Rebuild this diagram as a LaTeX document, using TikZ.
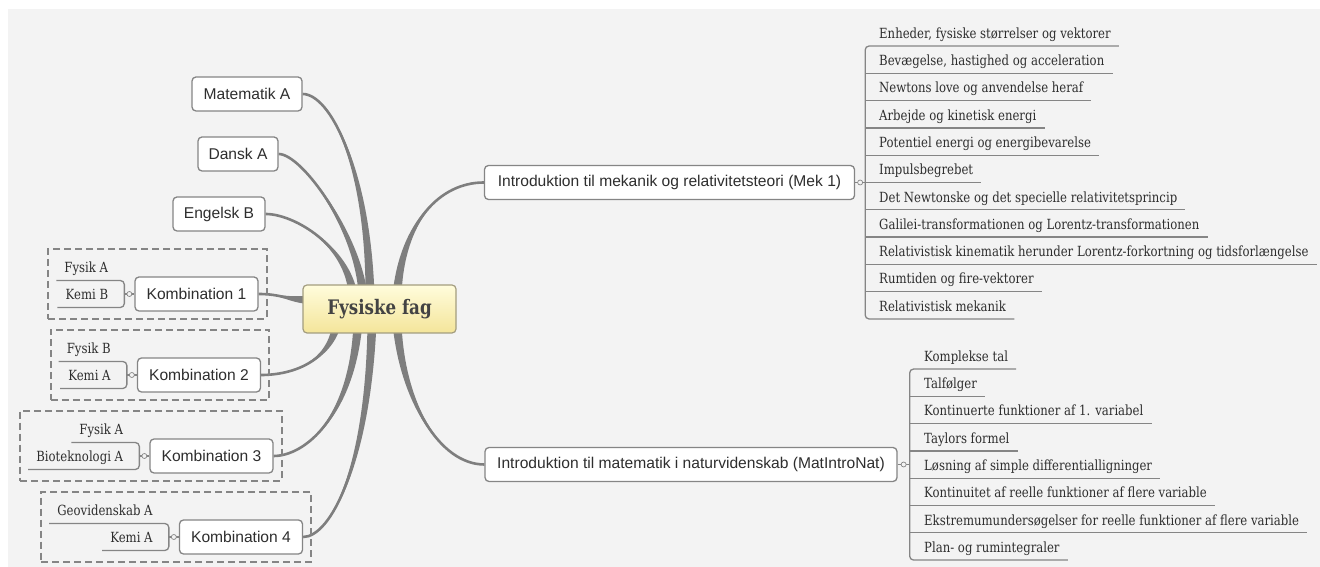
\documentclass[tikz,border=0pt]{standalone}
\usepackage{fontspec}
\setmainfont{DejaVu Serif}[FakeStretch=0.835]
\newfontfamily\topicfont{Liberation Sans}
\usetikzlibrary{calc,fit,backgrounds,positioning}
\definecolor{canvas}{HTML}{F3F3F3}
\definecolor{branchgray}{HTML}{7E7E7E}
\definecolor{boxline}{HTML}{858585}
\definecolor{inktext}{HTML}{2E2E2E}
\definecolor{ctrtop}{HTML}{FFFCDC}
\definecolor{ctrbot}{HTML}{F4E59A}
\definecolor{ctrline}{HTML}{A39D7F}

\tikzset{
  ctr/.style={draw=ctrline, top color=ctrtop, bottom color=ctrbot, rounded corners=4pt,
    line width=1.2pt, minimum width=153pt, minimum height=48pt, text=inktext!90,
    font=\bfseries\fontsize{20}{24}\selectfont},
  topic/.style={draw=boxline, fill=white, rounded corners=4pt, line width=1.3pt,
    minimum height=34pt, inner xsep=10pt, text=inktext,
    font=\topicfont\fontsize{15.6}{18}\selectfont},
  leaf/.style={inner xsep=8pt, inner ysep=3.5pt, text height=10pt, text depth=4pt,
    text=inktext, font=\fontsize{14}{16}\selectfont},
  leafline/.style={draw=boxline, line width=1.3pt},
  knob/.style={circle, draw=boxline, fill=canvas, line width=0.7pt, inner sep=0pt, minimum size=5pt},
  groupbox/.style={draw=boxline, line width=2pt, dash pattern=on 7pt off 4pt,
    inner xsep=8pt, inner ysep=8.75pt, yshift=1.75pt},
  branchline/.style={draw=branchgray, line width=2.6pt},
}

% tapered branch: start, end, control 1, control 2, half width at start
\newcommand{\branch}[5]{%
  \fill[branchgray] ($(#1)+(#5)$) .. controls ($(#3)+0.5*(#5)$) and (#4) .. (#2)
    .. controls (#4) and ($(#3)-0.5*(#5)$) .. ($(#1)-(#5)$) -- cycle;
  \draw[branchline] (#1) .. controls (#3) and (#4) .. (#2);}

\begin{document}
\begin{tikzpicture}[x=1pt,y=1pt]
  \useasboundingbox (0,0) rectangle (1320,567);
  \begin{scope}[on background layer]
    \fill[white] (0,0) rectangle (1320,567);
    \fill[canvas] (8,0) rectangle (1320,558);
  \end{scope}

  \node[ctr] (ctr) at (379.5,258) {Fysiske fag};

  % subjects on the left
  \node[topic, minimum width=110pt] (matA) at (247,473) {Matematik A};
  \node[topic, minimum width=80pt] (danA) at (238,413) {Dansk A};
  \node[topic, minimum width=92pt] (engB) at (219,353) {Engelsk B};

  % combinations
  \foreach \k/\x/\y in {1/196.5/273, 2/199/192, 3/211.5/111, 4/241/30}
    \node[topic, minimum width=123pt] (k\k) at (\x,\y) {Kombination \k};
  \foreach \k/\up/\low in {1/Fysik A/Kemi B, 2/Fysik B/Kemi A, 3/Fysik A/Bioteknologi A, 4/Geovidenskab A/Kemi A}{
    \coordinate (bar\k) at ([xshift=-10pt]k\k.west);
    \node[leaf, anchor=south east] (up\k) at ([shift={(-8,13.5)}]bar\k) {\up};
    \node[leaf, anchor=south east] (low\k) at ([shift={(-8,-13.5)}]bar\k) {\low};
    \draw[leafline, rounded corners=4pt] (up\k.south west) -- (bar\k |- up\k.south)
      -- (bar\k |- low\k.south) -- (low\k.south west);
    \draw[leafline] (bar\k) -- (k\k.west);
    \node[knob] at ([xshift=-5pt]k\k.west) {};
    \node[groupbox, fit=(k\k)(up\k)(low\k)] (grp\k) {};
  }

  % courses on the right
  \node[topic, minimum width=370pt] (mek) at (669.5,384.5) {Introduktion til mekanik og relativitetsteori (Mek 1)};
  \node[topic, minimum width=412pt] (mat) at (691,102.5) {Introduktion til matematik i naturvidenskab (MatIntroNat)};
  \coordinate (mekbar) at ([xshift=10pt]mek.east);
  \coordinate (matbar) at ([xshift=12pt]mat.east);

  \foreach \t [count=\i] in {{Enheder, fysiske størrelser og vektorer},
      {Bevægelse, hastighed og acceleration}, {Newtons love og anvendelse heraf},
      {Arbejde og kinetisk energi}, {Potentiel energi og energibevarelse},
      {Impulsbegrebet}, {Det Newtonske og det specielle relativitetsprincip},
      {Galilei-transformationen og Lorentz-transformationen},
      {Relativistisk kinematik herunder Lorentz-forkortning og tidsforlængelse},
      {Rumtiden og fire-vektorer}, {Relativistisk mekanik}}
    \node[leaf, anchor=south west] (mek\i) at (871,548.3-27.3*\i) {\t};
  \draw[leafline, rounded corners=4pt] (mek1.south east) -- (mekbar |- mek1.south)
    -- (mekbar |- mek11.south) -- (mek11.south east);
  \foreach \i in {2,...,10}
    \draw[leafline] (mekbar |- mek\i.south) -- (mek\i.south east);
  \draw[leafline] (mek.east) -- (mekbar);
  \node[knob] at ([xshift=5pt]mek.east) {};

  \foreach \t [count=\i] in {{Komplekse tal}, {Talfølger},
      {Kontinuerte funktioner af 1. variabel}, {Taylors formel},
      {Løsning af simple differentialligninger},
      {Kontinuitet af reelle funktioner af flere variable},
      {Ekstremumundersøgelser for reelle funktioner af flere variable},
      {Plan- og rumintegraler}}
    \node[leaf, anchor=south west] (mat\i) at (916,225.3-27.3*\i) {\t};
  \draw[leafline, rounded corners=4pt] (mat1.south east) -- (matbar |- mat1.south)
    -- (matbar |- mat8.south) -- (mat8.south east);
  \foreach \i in {2,...,7}
    \draw[leafline] (matbar |- mat\i.south) -- (mat\i.south east);
  \draw[leafline] (mat.east) -- (matbar);
  \node[knob] at ([xshift=6pt]mat.east) {};

  % branches out of the centre
  \begin{scope}[on background layer]
    \coordinate (sMatA) at ([shift={(-9.5,14)}]ctr.center);
    \coordinate (sDanA) at ([shift={(-16.5,14)}]ctr.center);
    \coordinate (sEngB) at ([shift={(-26.5,14)}]ctr.center);
    \coordinate (sK1) at ([shift={(-67.5,9)}]ctr.center);
    \coordinate (sK2) at ([shift={(-42.5,-14)}]ctr.center);
    \coordinate (sK3) at ([shift={(-21.5,-14)}]ctr.center);
    \coordinate (sK4) at ([shift={(-7.5,-14)}]ctr.center);
    \coordinate (sMek) at ([shift={(17.5,14)}]ctr.center);
    \coordinate (sMat) at ([shift={(17.5,-14)}]ctr.center);
    \branch{sMatA}{matA.east}{368,400}{330,473}{4.5,0}
    \branch{sDanA}{danA.east}{358,335}{302,413}{4.5,0}
    \branch{sEngB}{engB.east}{348,320}{295,353}{4.5,0}
    \branch{sK1}{k1.east}{285,267}{282,273}{0,4.5}
    \branch{sK2}{k2.east}{330,205}{292,192}{4.5,0}
    \branch{sK3}{k3.east}{352,150}{305,111}{4.5,0}
    \branch{sK4}{k4.east}{368,100}{330,30}{4.5,0}
    \branch{sMek}{mek.west}{402,345}{440,384.5}{4.5,0}
    \branch{sMat}{mat.west}{402,165}{440,102.5}{4.5,0}
  \end{scope}
\end{tikzpicture}
\end{document}
